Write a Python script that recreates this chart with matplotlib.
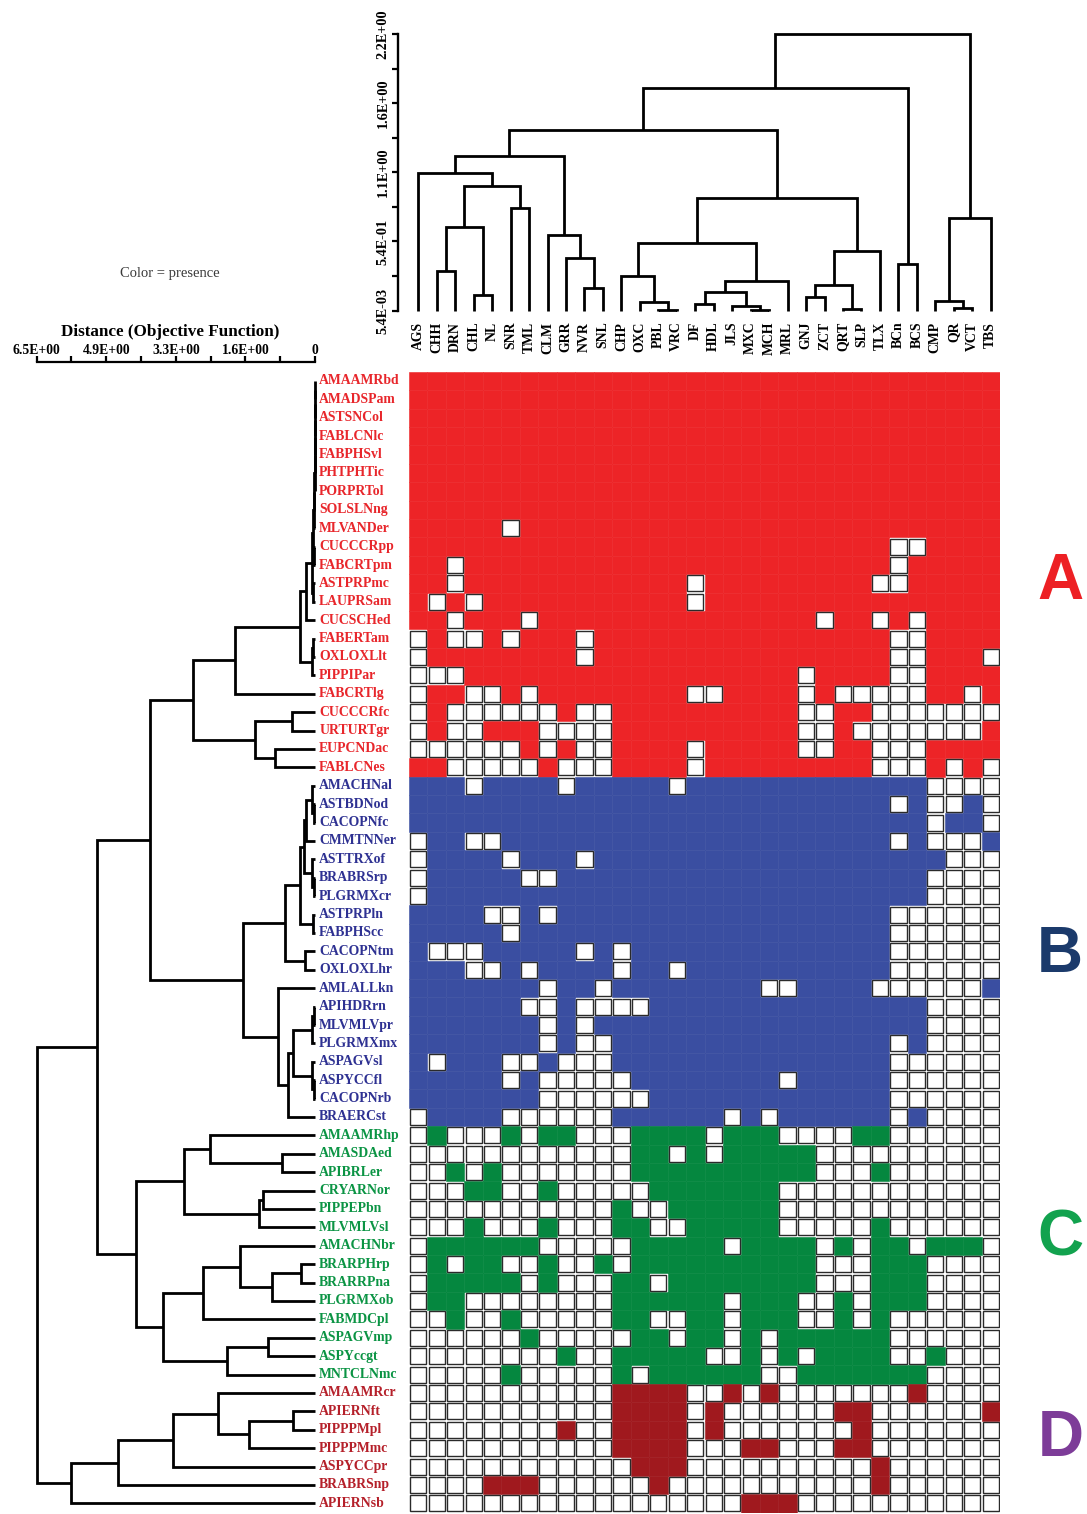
import matplotlib
matplotlib.use("Agg")
import matplotlib.pyplot as plt
from matplotlib.patches import Rectangle
import matplotlib.transforms as mtransforms

# ---------------- data ----------------
columns = ["AGS", "CHH", "DRN", "CHL", "NL", "SNR", "TML", "CLM", "GRR", "NVR", "SNL",
           "CHP", "OXC", "PBL", "VRC", "DF", "HDL", "JLS", "MXC", "MCH", "MRL", "GNJ",
           "ZCT", "QRT", "SLP", "TLX", "BCn", "BCS", "CMP", "QR", "VCT", "TBS"]

rows_A = ["AMAAMRbd", "AMADSPam", "ASTSNCol", "FABLCNlc", "FABPHSvl", "PHTPHTic", "PORPRTol",
          "SOLSLNng", "MLVANDer", "CUCCCRpp", "FABCRTpm", "ASTPRPmc", "LAUPRSam", "CUCSCHed",
          "FABERTam", "OXLOXLlt", "PIPPIPar", "FABCRTlg", "CUCCCRfc", "URTURTgr", "EUPCNDac",
          "FABLCNes"]
rows_B = ["AMACHNal", "ASTBDNod", "CACOPNfc", "CMMTNNer", "ASTTRXof", "BRABRSrp", "PLGRMXcr",
          "ASTPRPln", "FABPHScc", "CACOPNtm", "OXLOXLhr", "AMLALLkn", "APIHDRrn", "MLVMLVpr",
          "PLGRMXmx", "ASPAGVsl", "ASPYCCfl", "CACOPNrb", "BRAERCst"]
rows_C = ["AMAAMRhp", "AMASDAed", "APIBRLer", "CRYARNor", "PIPPEPbn", "MLVMLVsl", "AMACHNbr",
          "BRARPHrp", "BRARRPna", "PLGRMXob", "FABMDCpl", "ASPAGVmp", "ASPYccgt", "MNTCLNmc"]
rows_D = ["AMAAMRcr", "APIERNft", "PIPPPMpl", "PIPPPMmc", "ASPYCCpr", "BRABRSnp", "APIERNsb"]

# group A and B: columns where the species is ABSENT (white cells)
absent_A = [[], [], [], [], [], [], [], [], [5], [26, 27], [2, 26], [2, 15, 25, 26],
            [1, 3, 15], [2, 6, 22, 25, 27], [0, 2, 3, 5, 9, 26, 27], [0, 9, 26, 27, 31],
            [0, 1, 2, 21, 26, 27],
            [0, 3, 4, 6, 15, 16, 21, 23, 24, 25, 26, 27, 30],
            [0, 2, 3, 4, 5, 6, 7, 9, 10, 21, 22, 25, 26, 27, 28, 29, 30, 31],
            [0, 2, 3, 7, 8, 9, 10, 21, 22, 24, 25, 26, 27, 28, 29, 30],
            [0, 1, 2, 3, 4, 5, 7, 9, 10, 15, 21, 22, 25, 26, 27],
            [2, 3, 4, 5, 6, 8, 9, 10, 15, 25, 26, 27, 29, 31]]
absent_B = [[3, 8, 14, 28, 29, 30, 31], [26, 28, 29, 31], [28, 31], [0, 3, 4, 26, 28, 29, 30],
            [0, 5, 9, 29, 30, 31], [0, 6, 7, 28, 29, 30, 31], [0, 28, 29, 30, 31],
            [4, 5, 7, 26, 27, 28, 29, 30, 31], [5, 26, 27, 28, 29, 30, 31],
            [1, 2, 3, 9, 11, 26, 27, 28, 29, 30, 31], [3, 4, 6, 11, 14, 26, 27, 28, 29, 30, 31],
            [7, 10, 19, 20, 25, 26, 27, 28, 29, 30], [6, 7, 9, 10, 11, 12, 28, 29, 30, 31],
            [7, 9, 28, 29, 30, 31], [7, 9, 10, 26, 28, 29, 30, 31],
            [1, 5, 6, 8, 9, 10, 26, 27, 28, 29, 30, 31],
            [5, 7, 8, 9, 10, 11, 20, 26, 27, 28, 29, 30, 31],
            [7, 8, 9, 10, 11, 12, 26, 27, 28, 29, 30, 31],
            [0, 5, 6, 7, 8, 9, 10, 17, 19, 26, 28, 29, 30, 31]]
# group C and D: columns where the species is PRESENT (coloured cells)
present_C = [[1, 5, 7, 8, 12, 13, 14, 15, 17, 18, 19, 24, 25],
             [12, 13, 15, 17, 18, 19, 20, 21],
             [2, 4, 12, 13, 14, 15, 16, 17, 18, 19, 20, 21, 25],
             [3, 4, 7, 13, 14, 15, 16, 17, 18, 19],
             [11, 14, 15, 16, 17, 18, 19],
             [3, 7, 11, 12, 15, 16, 17, 18, 19, 25],
             [1, 2, 3, 4, 5, 6, 12, 13, 14, 15, 16, 18, 19, 20, 21, 23, 25, 26, 28, 29, 30],
             [1, 3, 4, 7, 10, 12, 13, 14, 15, 16, 17, 18, 19, 20, 21, 25, 26, 27],
             [1, 2, 3, 4, 5, 7, 11, 12, 14, 15, 16, 17, 18, 19, 20, 21, 25, 26, 27],
             [1, 2, 11, 12, 13, 14, 15, 16, 18, 19, 20, 23, 25, 26, 27],
             [2, 5, 11, 12, 15, 16, 18, 19, 20, 23, 25],
             [6, 12, 13, 15, 16, 18, 20, 21, 22, 23, 24, 25],
             [8, 11, 12, 13, 14, 15, 18, 20, 22, 23, 24, 25, 28],
             [5, 11, 13, 14, 15, 16, 17, 18, 21, 22, 23, 24, 25, 26, 27]]
present_D = [[11, 12, 13, 14, 17, 19, 27],
             [11, 12, 13, 14, 16, 23, 24, 31],
             [8, 11, 12, 13, 14, 16, 24],
             [11, 12, 13, 14, 18, 19, 23, 24],
             [12, 13, 14, 25],
             [4, 5, 6, 13, 25],
             [18, 19, 20]]

# dendrogram over columns: (left, right, height); ints are column indices
col_left = ((0, (((1, 2, 0.322), (3, 4, 0.132), 0.670), (5, 6, 0.823), 0.995), 1.100),
            (7, (8, (9, 10, 0.182), 0.422), 0.607), 1.232)
col_mid_a = ((11, (12, (13, 14, 0.013), 0.071), 0.282),
             (((15, 16, 0.058), (17, (18, 19, 0.013), 0.045), 0.156), 20, 0.243), 0.541)
col_mid_b = (((21, 22, 0.110), (23, 24, 0.018), 0.211), 25, 0.480)
col_main = ((col_left, (col_mid_a, col_mid_b, 0.902), 1.443), (26, 27, 0.375), 1.773)
col_right = ((28, (29, 30, 0.024), 0.085), 31, 0.744)
col_tree = (col_main, col_right, 2.200)

# dendrogram over rows (distance, objective function)
red_chain = ((((((((0, 1, 0.005), 2, 0.005), 3, 0.005), 4, 0.005), 5, 0.005), 6, 0.005),
              7, 0.015), 8, 0.025)
red_core = (((red_chain, (9, 10, 0.03), 0.04), (11, 12, 0.05), 0.08), 13, 0.21)
red_top = ((red_core, ((14, 15, 0.04), 16, 0.08), 0.35), 17, 1.87)
red_tree = (red_top, ((18, 19, 0.53), (20, 21, 0.935), 1.40), 2.86)
blue_a = ((((22, (23, 24, 0.02), 0.08), 25, 0.20), (26, (27, 28, 0.02), 0.07), 0.25),
          (29, 30, 0.05), 0.35)
blue_b = ((((34, 35, 0.03), 36, 0.06), (37, (38, 39, 0.03), 0.08), 0.51), 40, 0.63)
blue_tree = ((blue_a, (31, 32, 0.23), 0.70), (33, blue_b, 0.86), 1.68)
green_a = ((41, (42, 43, 0.78), 2.45), ((44, 45, 1.21), 46, 1.30), 3.06)
green_b = (((47, ((48, 49, 0.33), 50, 1.01), 1.75), 51, 2.61), ((52, 53, 1.09), 54, 2.06), 3.55)
green_tree = (green_a, green_b, 4.17)
dark_tree = ((((55, ((56, 57, 0.51), 58, 1.54), 2.26), 59, 3.31), 60, 4.60), 61, 5.70)
row_tree = (((red_tree, blue_tree, 3.86), green_tree, 5.10), dark_tree, 6.50)

distance_ticks = [6.5, 5.6875, 4.875, 4.0625, 3.25, 2.4375, 1.625, 0.8125, 0.0]
distance_labels = ["6.5E+00", "4.9E+00", "3.3E+00", "1.6E+00", "0"]
distance_label_at = [6.5, 4.875, 3.25, 1.625, 0.0]
height_ticks = [0.0054, 0.5541, 1.1027, 1.6514, 2.2]
height_labels = ["5.4E-03", "5.4E-01", "1.1E+00", "1.6E+00", "2.2E+00"]

group_fill = ["#ED2427", "#3A4EA1", "#05873F", "#A0191E"]
group_text = ["#E8262B", "#2E3192", "#0B9444", "#B5202A"]
group_letter = ["A", "B", "C", "D"]
letter_color = ["#ED2024", "#1B3A6B", "#12A24E", "#7D3C98"]
letter_row = [11.4, 31.7, 47.1, 58.0]   # vertical placement of the letters (layout)

# ---------------- build matrix ----------------
row_names, row_group, presence = [], [], []
for gi, (names, spec, mode) in enumerate([(rows_A, absent_A, "absent"), (rows_B, absent_B, "absent"),
                                          (rows_C, present_C, "present"), (rows_D, present_D, "present")]):
    for name, cols in zip(names, spec):
        if mode == "absent":
            v = [c not in cols for c in range(len(columns))]
        else:
            v = [c in cols for c in range(len(columns))]
        row_names.append(name)
        row_group.append(gi)
        presence.append(v)
n_rows, n_cols = len(row_names), len(columns)

# ---------------- figure ----------------
W, H = 1087, 1514
fig = plt.figure(figsize=(W / 100, H / 100), dpi=100)
SERIF = ["Liberation Serif", "DejaVu Serif"]


def px_axes(x0, y0, x1, y1):
    return fig.add_axes([x0 / W, 1 - y1 / H, (x1 - x0) / W, (y1 - y0) / H])


HX0, HX1, HY0, HY1 = 409, 1000, 371.8, 1512.6

# heatmap
axh = px_axes(HX0, HY0, HX1, HY1)
axh.set_xlim(0, n_cols)
axh.set_ylim(n_rows, 0)
axh.axis("off")
for r in range(n_rows):
    for c in range(n_cols):
        if presence[r][c]:
            col = group_fill[row_group[r]]
            axh.add_patch(Rectangle((c, r), 1, 1, facecolor=col, edgecolor=col, lw=0.4, zorder=1))
for r in range(n_rows):
    for c in range(n_cols):
        if not presence[r][c]:
            axh.add_patch(Rectangle((c + 0.06, r + 0.06), 0.88, 0.88, facecolor="white",
                                    edgecolor="#2a2a2a", lw=1.0, zorder=2))

row_tr = mtransforms.blended_transform_factory(axh.transAxes, axh.transData)
for r, name in enumerate(row_names):
    axh.text(-0.152, r + 0.5, name, transform=row_tr,
             ha="left", va="center", fontsize=9.9, fontweight="bold", family=SERIF,
             color=group_text[row_group[r]])

for gi in range(4):
    axh.text(1.102, letter_row[gi], group_letter[gi], transform=row_tr,
             ha="center", va="center", fontsize=46, fontweight="bold",
             family=["Liberation Sans", "DejaVu Sans"], color=letter_color[gi])


def draw_tree(ax, node, orient, leaf_h, lw):
    if isinstance(node, int):
        return node + 0.5, leaf_h
    a, b, h = node
    pa, ha = draw_tree(ax, a, orient, leaf_h, lw)
    pb, hb = draw_tree(ax, b, orient, leaf_h, lw)
    hs = [ha, h, h, hb]
    ps = [pa, pa, pb, pb]
    if orient == "top":
        ax.plot(ps, hs, color="black", lw=lw, clip_on=False, solid_capstyle="butt",
                solid_joinstyle="miter")
    else:
        ax.plot(hs, ps, color="black", lw=lw, clip_on=False, solid_capstyle="butt",
                solid_joinstyle="miter")
    return (pa + pb) / 2, h


# top dendrogram
axt = px_axes(HX0, 34.2, HX1, 310.6)
axt.set_xlim(0, n_cols)
axt.set_ylim(height_ticks[0], height_ticks[-1])
draw_tree(axt, col_tree, "top", height_ticks[0], 2.0)
for s in ["top", "right", "bottom"]:
    axt.spines[s].set_visible(False)
axt.spines["left"].set_position(("outward", 8))
axt.spines["left"].set_linewidth(1.7)
axt.set_xticks([])
axt.set_yticks(height_ticks)
axt.set_yticks([(a + b) / 2 for a, b in zip(height_ticks[:-1], height_ticks[1:])], minor=True)
axt.set_yticklabels(height_labels)
axt.tick_params(axis="y", which="both", direction="out", length=4, width=1.6, pad=2)
for lab in axt.get_yticklabels():
    lab.set_rotation(90)
    lab.set_va("center")
    lab.set_ha("right")
    lab.set_fontsize(10.3)
    lab.set_fontweight("bold")
    lab.set_family(SERIF)
col_tr = mtransforms.blended_transform_factory(axt.transData, axt.transAxes)
for c, name in enumerate(columns):
    axt.text(c + 0.5, -0.040, name, transform=col_tr,
             rotation=90, ha="center", va="top", fontsize=9.9, fontweight="bold", family=SERIF)

# left dendrogram
axl = px_axes(36.7, HY0, 315, HY1)
axl.set_xlim(distance_ticks[0], distance_ticks[-1])
axl.set_ylim(n_rows, 0)
draw_tree(axl, row_tree, "left", 0.0, 2.0)
for s in ["left", "right", "bottom"]:
    axl.spines[s].set_visible(False)
axl.spines["top"].set_position(("outward", 7))
axl.spines["top"].set_linewidth(1.6)
axl.set_yticks([])
axl.xaxis.set_ticks_position("top")
axl.set_xticks(distance_ticks)
axl.set_xticklabels([])
axl.tick_params(axis="x", direction="out", length=4, width=1.6)
for lab, pos in zip(distance_labels, distance_label_at):
    axl.annotate(lab, xy=(pos, 1.0), xycoords=("data", "axes fraction"),
                 xytext=(0, 11), textcoords="offset points", ha="center", va="bottom",
                 fontsize=9.8, fontweight="bold", family=SERIF)

fig.text(170 / W, 1 - 332 / H, "Distance (Objective Function)", ha="center", va="center",
         fontsize=12.3, fontweight="bold", family=SERIF)
fig.text(170 / W, 1 - 273 / H, "Color = presence", ha="center", va="center",
         fontsize=10.5, family=SERIF, color="#3a3a3a")

fig.savefig("out.png", dpi=100)
